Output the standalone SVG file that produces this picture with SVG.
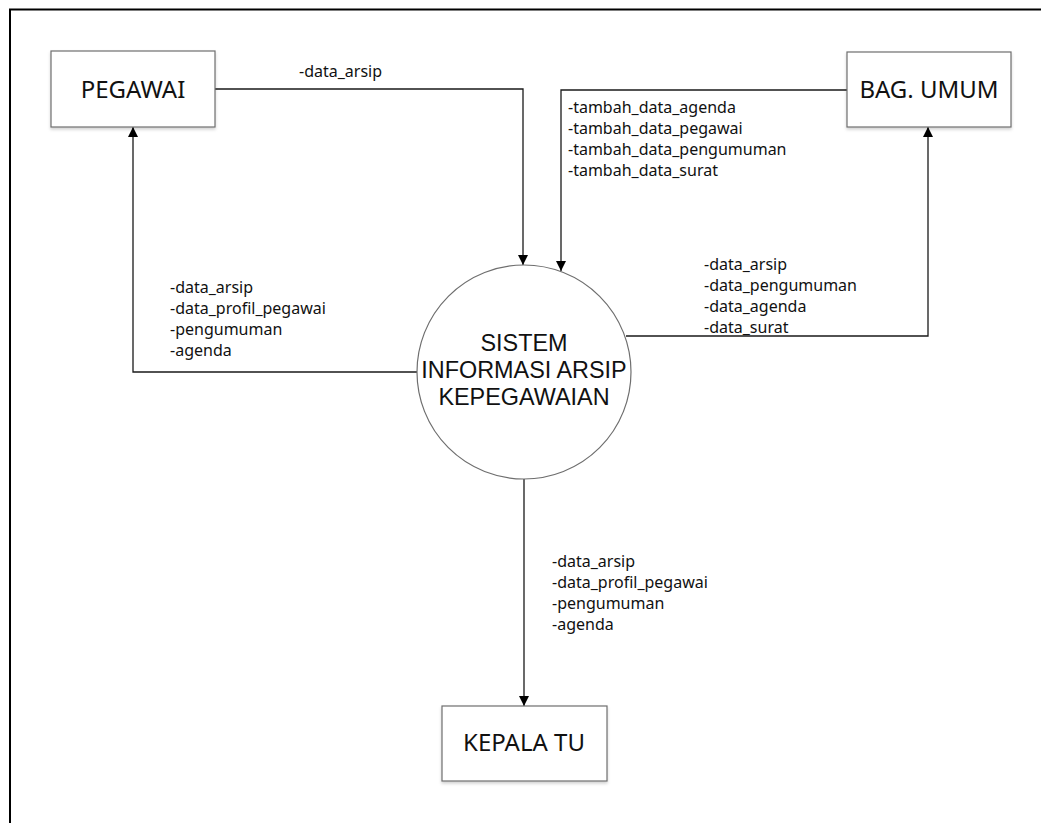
<svg xmlns="http://www.w3.org/2000/svg" width="1041" height="823" viewBox="0 0 1041 823">
  <style>
    .frame { stroke: #000; stroke-width: 2; fill: none; }
    .entity { fill: #fff; stroke: #6e6e6e; stroke-width: 1.2; }
    .process { fill: #fff; stroke: #6e6e6e; stroke-width: 1.2; }
    .flow { fill: none; stroke: #1a1a1a; stroke-width: 1.3; }
    .title { font-family: "Noto Sans", "Open Sans", sans-serif; font-size: 24px; fill: #111; text-anchor: middle; }
    .ptitle { font-family: "Liberation Sans", Arial, sans-serif; font-size: 23.4px; fill: #111; text-anchor: middle; }
    .label { font-family: "Noto Sans", "Open Sans", sans-serif; font-size: 16px; fill: #111; }
  </style>
  <defs>
    <marker id="arrow" viewBox="0 0 10 10" refX="10" refY="5" markerWidth="10" markerHeight="10" markerUnits="userSpaceOnUse" orient="auto">
      <path d="M0,0 L10,5 L0,10 Z" fill="#000"/>
    </marker>
    <filter id="soft" x="-10%" y="-10%" width="120%" height="130%">
      <feDropShadow dx="0" dy="2" stdDeviation="1.5" flood-color="#000" flood-opacity="0.18"/>
    </filter>
  </defs>

  <rect width="1041" height="823" fill="#fff"/>
  <!-- page border -->
  <path class="frame" d="M10,823 L10,9.5 L1041,9.5"/>

  <!-- data flows -->
  <g id="connectors">
    <path class="flow" d="M215,89 L523,89 L523,265" marker-end="url(#arrow)"/>
    <path class="flow" d="M847,90 L561,90 L561,271" marker-end="url(#arrow)"/>
    <path class="flow" d="M417,372 L133,372 L133,127" marker-end="url(#arrow)"/>
    <path class="flow" d="M626,336 L928,336 L928,127" marker-end="url(#arrow)"/>
    <path class="flow" d="M524,479 L524,706" marker-end="url(#arrow)"/>

    <text class="label" x="299" y="77">-data_arsip</text>
    <text class="label">
      <tspan x="568" y="113">-tambah_data_agenda</tspan>
      <tspan x="568" y="134">-tambah_data_pegawai</tspan>
      <tspan x="568" y="155">-tambah_data_pengumuman</tspan>
      <tspan x="568" y="176">-tambah_data_surat</tspan>
    </text>
    <text class="label">
      <tspan x="170" y="293">-data_arsip</tspan>
      <tspan x="170" y="314">-data_profil_pegawai</tspan>
      <tspan x="170" y="335">-pengumuman</tspan>
      <tspan x="170" y="356">-agenda</tspan>
    </text>
    <text class="label">
      <tspan x="704" y="270">-data_arsip</tspan>
      <tspan x="704" y="291">-data_pengumuman</tspan>
      <tspan x="704" y="312">-data_agenda</tspan>
      <tspan x="704" y="333">-data_surat</tspan>
    </text>
    <text class="label">
      <tspan x="552" y="567">-data_arsip</tspan>
      <tspan x="552" y="588">-data_profil_pegawai</tspan>
      <tspan x="552" y="609">-pengumuman</tspan>
      <tspan x="552" y="630">-agenda</tspan>
    </text>
  </g>

  <g id="pegawai">
    <rect class="entity" x="51" y="51" width="164" height="76" filter="url(#soft)"/>
    <text class="title" x="133" y="98">PEGAWAI</text>
  </g>

  <g id="bag-umum">
    <rect class="entity" x="847" y="52" width="164" height="75" filter="url(#soft)"/>
    <text class="title" x="929" y="98">BAG. UMUM</text>
  </g>

  <g id="kepala-tu">
    <rect class="entity" x="442" y="706" width="165" height="75" filter="url(#soft)"/>
    <text class="title" x="524" y="751">KEPALA TU</text>
  </g>

  <g id="sistem">
    <circle class="process" cx="524" cy="372" r="107"/>
    <text class="ptitle" x="524" y="351">SISTEM</text>
    <text class="ptitle" x="524" y="378">INFORMASI ARSIP</text>
    <text class="ptitle" x="524" y="405">KEPEGAWAIAN</text>
  </g>
</svg>
